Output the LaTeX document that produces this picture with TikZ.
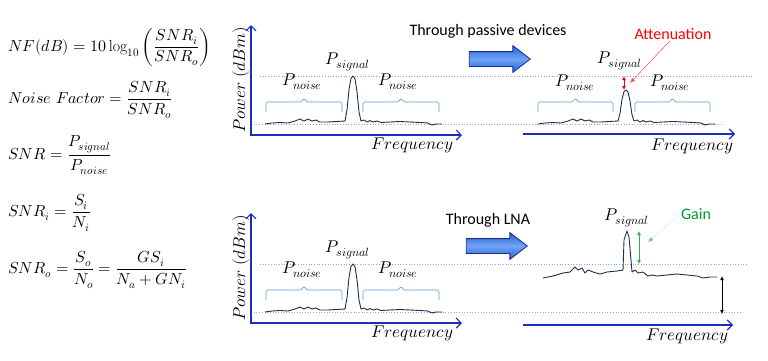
\documentclass[tikz,border=0pt]{standalone}
\usepackage{amsmath}
\usepackage{fontspec}
\usepackage{unicode-math}
\setmathfont{Latin Modern Math}
\setsansfont{Carlito}
\usetikzlibrary{arrows.meta, calc, shapes.arrows}
\definecolor{axisblue}{RGB}{25,45,190}
\definecolor{levelblue}{RGB}{140,165,215}
\definecolor{braceblue}{RGB}{100,150,210}
\definecolor{tracenavy}{RGB}{35,45,75}
\definecolor{arrowedge}{RGB}{25,45,140}
\definecolor{arrowmid}{RGB}{40,95,215}
\definecolor{arrowlight}{RGB}{110,165,245}
\definecolor{attred}{RGB}{255,0,0}
\definecolor{gaingreen}{RGB}{0,150,50}
\tikzset{
    % open barb used on the plot axes
    axtip/.tip={Straight Barb[length=5pt, width=10pt, line width=1.2pt]},
    % axes of the spectrum plots
    axis/.style={draw=axisblue, line width=1.8pt},
    % dotted reference levels (signal peak and noise floor)
    level/.style={draw=levelblue, dotted, line width=0.7pt},
    % measured spectrum trace
    trace/.style={draw=tracenavy, line width=0.9pt, line join=round},
    % bracket over a noise band
    nbrace/.style={draw=braceblue, line width=0.6pt, rounded corners=1.5pt},
    % italic labels inside the plots
    plotlbl/.style={font=\fontsize{17}{19}\selectfont, inner sep=1pt},
    % equations on the left
    eqn/.style={font=\fontsize{16}{19}\selectfont, anchor=west, inner sep=0pt},
    % block arrow between two spectra
    stage/.style={single arrow, draw=arrowedge, line width=0.8pt,
        single arrow head extend=6pt, single arrow tip angle=75,
        minimum height=61pt, inner xsep=0pt, inner ysep=7pt,
        top color=arrowmid, bottom color=arrowmid, middle color=arrowlight},
    stagelbl/.style={font=\sffamily\fontsize{16}{18}\selectfont, inner sep=1pt},
    % measured differences
    dbl/.style={{Latex[length=4pt, width=4pt]}-{Latex[length=4pt, width=4pt]}, line width=0.8pt},
    pointer/.style={-{Latex[length=5pt, width=4pt]}, line width=0.5pt},
}
% noise floor with one peak, #1 = peak height above the floor
\newcommand{\spectrum}[1]{%
    \draw[trace] (265,124) -- (272,123) -- (280,122.5) -- (288,123) -- (295,121)
        -- (300,119) -- (304,121) -- (308,119) -- (312,121) -- (316,120) -- (320,122)
        -- (328,122) -- (336,121.5) -- (345,121) -- (347,{121-0.25*#1})
        -- (349,{121-0.7*#1}) -- (351,{121-0.95*#1}) -- (353,{121-#1})
        -- (355,{121-0.94*#1}) -- (357,{121-0.65*#1}) -- (359,{121-0.2*#1})
        -- (361,121) -- (364,120) -- (367,122) -- (370,120.5) -- (373,122)
        -- (377,121) -- (381,122.5) -- (390,122) -- (400,121.5) -- (410,122)
        -- (420,122.5) -- (428,123) -- (432,125) -- (436,124) -- (442,124);}
% bracket over a noise band from #1 to #2
\newcommand{\noisebrace}[2]{%
    \draw[nbrace] (#1,112) -- (#1,102) -- ($(#1,102)!0.5!(#2,102)+(-2.5,0)$)
        -- ++(2.5,-4) -- ++(2.5,4) -- (#2,102) -- (#2,112);}

\begin{document}
\begin{tikzpicture}[x=1pt, y=-1pt]
    \useasboundingbox (0,0) rectangle (768,360);

    % ---- equations ----
    \node[eqn] (nfdb) at (8,47)
        {$\displaystyle NF(dB)=10\log_{10}\left(\frac{SNR_i}{SNR_o}\right)$};
    \node[eqn] (nfac) at (8,100) {$\displaystyle Noise\ Factor=\frac{SNR_i}{SNR_o}$};
    \node[eqn] (snr)  at (8,155) {$\displaystyle SNR=\frac{P_{signal}}{P_{noise}}$};
    \node[eqn] (snri) at (8,213) {$\displaystyle SNR_i=\frac{S_i}{N_i}$};
    \node[eqn] (snro) at (8,270)
        {$\displaystyle SNR_o=\frac{S_o}{N_o}=\frac{GS_i}{N_a+GN_i}$};

    % ---- input spectra (same in both rows) ----
    \foreach \dy/\row/\topend/\botend in {0/top/752/722, 188/bot/747/740}{
        \begin{scope}[shift={(0,\dy)}]
            \draw[level] (260,76) -- (\topend,76);
            \draw[level] (251,124) -- (\botend,124);
            \draw[axis, axtip-axtip] (251,25) -- (251,135) -- (462,135);
            \node[plotlbl, rotate=90] (\row-pow) at (241,80) {$Power\ (dBm)$};
            \node[plotlbl] (\row-freq) at (412,145) {$Frequency$};
            \spectrum{45}
            \node[plotlbl] (\row-sig) at (348,62) {$P_{signal}$};
            \node[plotlbl] (\row-nl) at (302,82) {$P_{noise}$};
            \node[plotlbl] (\row-nr) at (398,82) {$P_{noise}$};
            \noisebrace{266}{342}
            \noisebrace{363}{439}
        \end{scope}
    }

    % ---- through passive devices ----
    \node[stagelbl] (passlbl) at (488,31) {Through passive devices};
    \node[stage] (pass) at (495,59) {};

    \begin{scope}[shift={(273,0)}]
        \spectrum{31}
        \noisebrace{265}{340}
        \noisebrace{362}{437}
    \end{scope}
    \draw[axis, -axtip] (523,134) -- (735,134);
    \node[plotlbl] (att-freq) at (692,146) {$Frequency$};
    \node[plotlbl] (att-sig) at (620,61) {$P_{signal}$};
    \node[plotlbl] (att-nl) at (575,83) {$P_{noise}$};
    \node[plotlbl] (att-nr) at (670,83) {$P_{noise}$};

    \coordinate (attref) at (624,76);
    \coordinate (attpk) at (624,90);
    \draw[dbl, attred] (attref) -- (attpk);
    \node[stagelbl, text=attred] (atten) at (673,34) {Attenuation};
    \coordinate (atttip) at (630,83);
    \draw[pointer, attred!70] ([xshift=-3pt]atten.south) -- (atttip);

    % ---- through LNA ----
    \node[stagelbl] (lnalbl) at (488,220) {Through LNA};
    \node[stage] (lna) at (492,246) {};

    \draw[trace] (543,278) -- (553,276) -- (563,273) -- (570,272) -- (575,267)
        -- (578,270) -- (582,268) -- (585,273) -- (588,270) -- (593,272) -- (600,274)
        -- (607,272) -- (617,271) -- (623,270) -- (624,240) -- (627,231) -- (629,237)
        -- (632,272) -- (635,270) -- (638,273) -- (643,272) -- (648,276) -- (652,275)
        -- (657,276) -- (667,275) -- (677,274) -- (687,275) -- (697,276) -- (703,278)
        -- (710,277) -- (717,277);
    \draw[axis, -axtip] (523,325) -- (733,325);
    \node[plotlbl] (lna-freq) at (687,336) {$Frequency$};
    \node[plotlbl] (lna-sig) at (627,218) {$P_{signal}$};

    \coordinate (gainpk) at (639,231);
    \coordinate (gainref) at (639,264);
    \draw[dbl, gaingreen!80] (gainpk) -- (gainref);
    \node[stagelbl, text=gaingreen] (gain) at (696,214) {Gain};
    \coordinate (gaintip) at (648,242);
    \draw[pointer, dotted, gaingreen!60] (gain.west) -- (gaintip);

    % raised noise floor
    \coordinate (floorout) at (722,276);
    \coordinate (floorin) at (722,314);
    \draw[dbl, black] (floorout) -- (floorin);

\end{tikzpicture}
\end{document}
